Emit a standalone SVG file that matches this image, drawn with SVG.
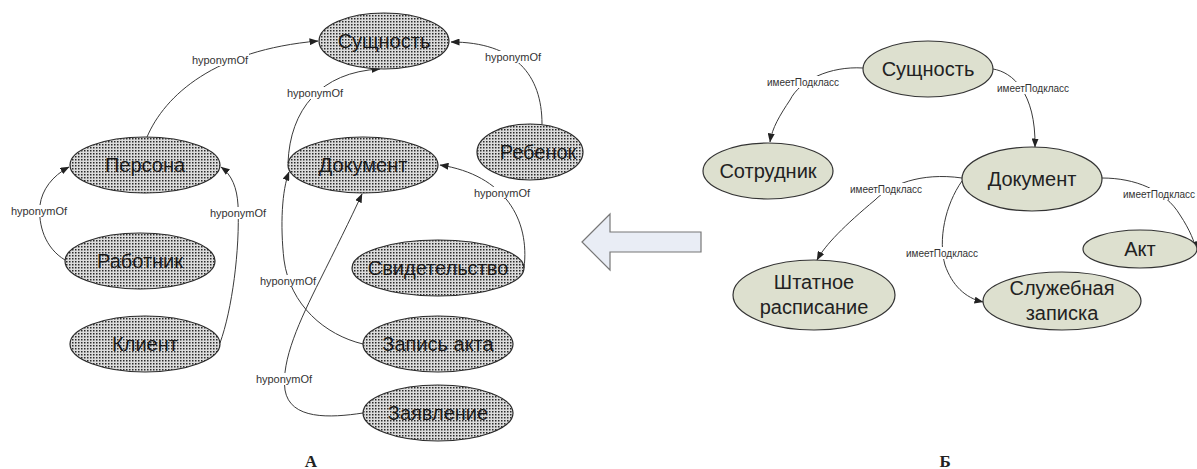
<svg xmlns="http://www.w3.org/2000/svg" width="1197" height="469" viewBox="0 0 1197 469">
<style>
.nl{fill:url(#dots);stroke:#2a2a2a;stroke-width:1.2}
.nr{fill:#dde0cf;stroke:#333;stroke-width:1.2}
.tl{font-family:"Liberation Sans",Arial,sans-serif;font-size:20px;fill:#1a1a1a;text-anchor:middle;dominant-baseline:central}
.tr{font-family:"Liberation Sans",Arial,sans-serif;font-size:20px;fill:#222;text-anchor:middle;dominant-baseline:central}
.e{fill:none;stroke:#3a3a3a;stroke-width:1}
.lb{font-family:"Liberation Sans",Arial,sans-serif;font-size:11px;fill:#333;text-anchor:middle;dominant-baseline:central}
.lr{font-family:"Liberation Sans",Arial,sans-serif;font-size:10px;fill:#333;text-anchor:middle;dominant-baseline:central}
.bg{fill:#fff}
.cap{font-family:"Liberation Serif","Times New Roman",serif;font-size:17px;font-weight:bold;fill:#222;text-anchor:middle}
</style>
<defs>
<pattern id="dots" width="3" height="3" patternUnits="userSpaceOnUse">
<rect width="3" height="3" fill="#dcdcdc"/>
<rect width="1.5" height="1.5" fill="#2a2a2a"/>
</pattern>
<marker id="ah" markerWidth="9" markerHeight="7" refX="8.5" refY="3.5" orient="auto" markerUnits="userSpaceOnUse">
<path d="M0,0 L9,3.5 L0,7 Z" fill="#222"/>
</marker>
</defs>

<g id="connectors">
<path class="e" marker-end="url(#ah)" d="M147,137 C165,95 215,50 318,41"/>
<path class="e" marker-end="url(#ah)" d="M542,124 C542,75 515,42 451,42"/>
<path class="e" marker-end="url(#ah)" d="M288,163 C290,110 320,72 380,69"/>
<path class="e" marker-end="url(#ah)" d="M363,344 C325,335 290,305 284,260 C280,225 282,190 289,172"/>
<path class="e" marker-end="url(#ah)" d="M363,413 C330,418 290,420 285,390 C281,360 300,320 320,280 C335,250 350,220 362,194"/>
<path class="e" marker-end="url(#ah)" d="M524,268 C530,220 505,175 440,165"/>
<path class="e" marker-end="url(#ah)" d="M65,260 C45,248 38,225 40,205 C42,190 52,176 69,167"/>
<path class="e" marker-end="url(#ah)" d="M220,343 C232,310 240,250 238,205 C237,188 232,175 221,167"/>

<path class="e" marker-end="url(#ah)" d="M863,68 C830,66 800,80 790,100 C780,115 772,128 770,142"/>
<path class="e" marker-end="url(#ah)" d="M993,69 C1012,72 1036,92 1035,147"/>
<path class="e" marker-end="url(#ah)" d="M962,178 C920,172 890,185 875,200 C845,225 825,245 817,260"/>
<path class="e" marker-end="url(#ah)" d="M962,181 C945,205 938,240 945,265 C952,285 965,298 983,302"/>
<path class="e" marker-end="url(#ah)" d="M1102,178 C1135,178 1165,190 1180,215 C1190,230 1195,243 1196,250"/>

<rect class="bg" x="191" y="54" width="58" height="12"/><text class="lb" x="220" y="60">hyponymOf</text>
<rect class="bg" x="484" y="51" width="58" height="12"/><text class="lb" x="513" y="57">hyponymOf</text>
<rect class="bg" x="286" y="87" width="58" height="12"/><text class="lb" x="315" y="93">hyponymOf</text>
<rect class="bg" x="260" y="275" width="54" height="12"/><text class="lb" x="288" y="281">hyponymOf</text>
<rect class="bg" x="255" y="373" width="58" height="12"/><text class="lb" x="284" y="379">hyponymOf</text>
<rect class="bg" x="473" y="187" width="58" height="12"/><text class="lb" x="502" y="193">hyponymOf</text>
<rect class="bg" x="10" y="205" width="58" height="12"/><text class="lb" x="39" y="211">hyponymOf</text>
<rect class="bg" x="209" y="207" width="58" height="12"/><text class="lb" x="238" y="213">hyponymOf</text>

<rect class="bg" x="763" y="76" width="80" height="12"/><text class="lr" x="803" y="82">имеетПодкласс</text>
<rect class="bg" x="993" y="82" width="80" height="12"/><text class="lr" x="1033" y="88">имеетПодкласс</text>
<rect class="bg" x="846" y="183" width="80" height="12"/><text class="lr" x="886" y="189">имеетПодкласс</text>
<rect class="bg" x="902" y="247" width="80" height="12"/><text class="lr" x="942" y="253">имеетПодкласс</text>
<rect class="bg" x="1123" y="188" width="80" height="12"/><text class="lr" x="1123" y="194" style="text-anchor:start">имеетПодкласс</text>
</g>

<g id="n-sushchnost-a"><ellipse class="nl" cx="384" cy="41" rx="65" ry="28"/><text class="tl" x="384" y="41">Сущность</text></g>
<g id="n-persona"><ellipse class="nl" cx="145" cy="165" rx="75" ry="28"/><text class="tl" x="145" y="165">Персона</text></g>
<g id="n-dokument-a"><ellipse class="nl" cx="363" cy="165" rx="75" ry="28"/><text class="tl" x="363" y="165">Документ</text></g>
<g id="n-rebenok"><ellipse class="nl" cx="530" cy="152" rx="53" ry="28"/><text class="tl" x="538" y="152">Ребенок</text></g>
<g id="n-rabotnik"><ellipse class="nl" cx="140" cy="261" rx="75" ry="28"/><text class="tl" x="140" y="261">Работник</text></g>
<g id="n-klient"><ellipse class="nl" cx="145" cy="344" rx="75" ry="28"/><text class="tl" x="145" y="344">Клиент</text></g>
<g id="n-svidetelstvo"><ellipse class="nl" cx="438" cy="268" rx="86" ry="28"/><text class="tl" x="438" y="268">Свидетельство</text></g>
<g id="n-zapis-akta"><ellipse class="nl" cx="438" cy="344" rx="75" ry="28"/><text class="tl" x="438" y="344">Запись акта</text></g>
<g id="n-zayavlenie"><ellipse class="nl" cx="438" cy="413" rx="75" ry="28"/><text class="tl" x="438" y="413">Заявление</text></g>

<g id="big-arrow"><path d="M582,242 L610,214 L610,232 L701,232 L701,252 L610,252 L610,270 Z" fill="#e9edf5" stroke="#777" stroke-width="1.2"/></g>

<g id="n-sushchnost-b"><ellipse class="nr" cx="928" cy="69" rx="65" ry="28"/><text class="tr" x="928" y="69">Сущность</text></g>
<g id="n-sotrudnik"><ellipse class="nr" cx="768" cy="171" rx="65" ry="28"/><text class="tr" x="768" y="171">Сотрудник</text></g>
<g id="n-dokument-b"><ellipse class="nr" cx="1032" cy="179" rx="70" ry="32"/><text class="tr" x="1032" y="179">Документ</text></g>
<g id="n-akt"><ellipse class="nr" cx="1140" cy="249" rx="57" ry="19"/><text class="tr" x="1140" y="249">Акт</text></g>
<g id="n-sluzhebnaya"><ellipse class="nr" cx="1062" cy="301" rx="79" ry="29"/><text class="tr" x="1062" y="288">Служебная</text><text class="tr" x="1062" y="313">записка</text></g>
<g id="n-shtatnoe"><ellipse class="nr" cx="814" cy="295" rx="81" ry="35"/><text class="tr" x="814" y="282">Штатное</text><text class="tr" x="814" y="307">расписание</text></g>

<text class="cap" x="311" y="467">А</text>
<text class="cap" x="945" y="467">Б</text>
</svg>
